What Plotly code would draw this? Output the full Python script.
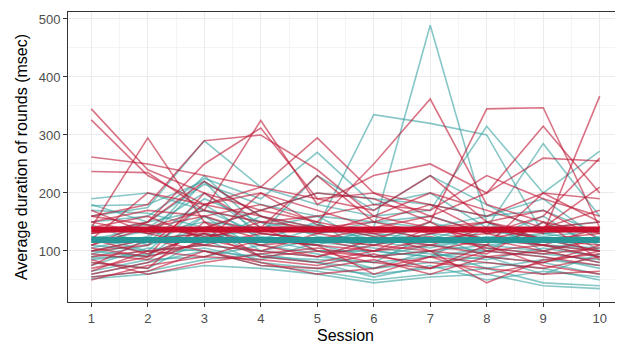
import plotly.graph_objects as go

sessions = [1, 2, 3, 4, 5, 6, 7, 8, 9, 10]

red_series = [
    [345, 240, 200, 170, 150, 130, 140, 120, 110, 100],
    [326, 230, 180, 160, 140, 150, 130, 140, 120, 130],
    [262, 250, 230, 210, 190, 200, 180, 160, 200, 190],
    [237, 235, 170, 325, 180, 230, 250, 200, 260, 255],
    [140, 295, 150, 120, 110, 100, 120, 130, 110, 90],
    [160, 180, 290, 300, 240, 160, 140, 150, 120, 100],
    [130, 150, 250, 312, 190, 170, 230, 150, 170, 120],
    [120, 200, 180, 210, 295, 200, 160, 130, 140, 150],
    [110, 140, 160, 180, 150, 250, 362, 180, 150, 130],
    [150, 130, 140, 170, 200, 190, 150, 345, 347, 140],
    [100, 120, 130, 110, 120, 140, 160, 200, 315, 200],
    [90, 100, 110, 130, 120, 110, 130, 150, 130, 367],
    [60, 80, 120, 100, 90, 110, 100, 120, 140, 210],
    [70, 90, 200, 140, 100, 90, 80, 70, 60, 65],
    [55, 65, 100, 80, 60, 70, 90, 60, 80, 110],
    [80, 70, 150, 90, 100, 80, 70, 100, 90, 75],
    [140, 160, 120, 150, 140, 130, 100, 90, 80, 100],
    [170, 130, 110, 100, 130, 160, 200, 170, 140, 170],
    [100, 110, 180, 200, 170, 140, 120, 110, 200, 150],
    [120, 95, 130, 90, 80, 100, 140, 120, 100, 80],
    [65, 100, 90, 120, 110, 60, 90, 80, 70, 90],
    [150, 170, 160, 130, 120, 100, 110, 140, 120, 110],
    [95, 85, 140, 110, 90, 120, 150, 100, 110, 140],
    [75, 120, 100, 75, 70, 85, 60, 90, 100, 120],
    [130, 140, 170, 150, 160, 180, 170, 230, 190, 160],
    [85, 60, 80, 95, 105, 90, 100, 45, 85, 95],
    [110, 150, 220, 160, 130, 115, 125, 105, 95, 105],
    [160, 145, 125, 140, 230, 150, 180, 130, 160, 260],
    [50, 75, 90, 85, 75, 95, 70, 110, 75, 60],
    [105, 90, 115, 200, 145, 125, 110, 95, 150, 85],
]

teal_series = [
    [190, 200, 170, 150, 130, 140, 489, 150, 120, 100],
    [178, 180, 220, 160, 140, 335, 320, 300, 130, 140],
    [160, 175, 290, 210, 180, 160, 170, 315, 200, 272],
    [150, 160, 225, 190, 270, 180, 200, 140, 285, 160],
    [130, 150, 215, 180, 160, 150, 140, 160, 190, 120],
    [120, 140, 200, 130, 120, 110, 130, 120, 110, 100],
    [110, 100, 180, 120, 110, 90, 100, 110, 100, 80],
    [100, 90, 160, 100, 90, 80, 90, 100, 90, 70],
    [90, 110, 140, 90, 80, 70, 80, 90, 80, 60],
    [80, 70, 120, 80, 70, 60, 70, 80, 70, 50],
    [60, 80, 100, 75, 65, 50, 60, 70, 45, 40],
    [52, 60, 75, 70, 60, 45, 55, 60, 40, 35],
    [140, 130, 150, 140, 130, 150, 160, 130, 140, 150],
    [125, 120, 130, 110, 140, 120, 110, 120, 130, 140],
    [115, 135, 110, 100, 120, 130, 120, 110, 120, 120],
    [105, 125, 230, 140, 160, 110, 150, 120, 160, 100],
    [95, 115, 190, 150, 100, 100, 90, 140, 110, 90],
    [85, 95, 130, 120, 150, 90, 110, 100, 150, 110],
    [75, 105, 100, 90, 85, 80, 130, 90, 60, 95],
    [65, 85, 90, 110, 95, 70, 100, 70, 85, 75],
    [170, 165, 140, 170, 200, 190, 180, 160, 170, 130],
    [135, 145, 125, 135, 145, 125, 140, 135, 125, 135],
    [145, 110, 160, 125, 110, 140, 120, 150, 100, 125],
    [55, 65, 85, 95, 80, 55, 75, 50, 65, 55],
    [180, 150, 170, 130, 230, 170, 230, 180, 130, 115],
    [100, 120, 220, 120, 100, 100, 90, 105, 95, 85],
    [125, 100, 110, 160, 125, 115, 105, 125, 110, 105],
    [88, 92, 105, 85, 115, 105, 95, 85, 105, 90],
]

red_mean = 137
teal_mean = 119

y_ticks = [100, 200, 300, 400, 500]

RED = "rgba(190,22,52,0.6)"
TEAL = "rgba(55,162,162,0.6)"

fig = go.Figure()
for s in teal_series:
    fig.add_trace(go.Scatter(x=sessions, y=s, mode="lines",
                             line=dict(color=TEAL, width=1.6), hoverinfo="skip"))
for s in red_series:
    fig.add_trace(go.Scatter(x=sessions, y=s, mode="lines",
                             line=dict(color=RED, width=1.6), hoverinfo="skip"))

fig.add_trace(go.Scatter(x=[sessions[0], sessions[-1]], y=[teal_mean, teal_mean], mode="lines",
                         line=dict(color="rgb(40,150,150)", width=6), hoverinfo="skip"))
fig.add_trace(go.Scatter(x=[sessions[0], sessions[-1]], y=[red_mean, red_mean], mode="lines",
                         line=dict(color="rgb(200,16,46)", width=6), hoverinfo="skip"))

# page body has an 8px margin, so the figure is sized/placed to compensate
fig.update_layout(
    width=615, height=338,
    margin=dict(l=60, r=0, t=4, b=44),
    paper_bgcolor="white", plot_bgcolor="white",
    showlegend=False,
    font=dict(family="Liberation Sans, Arial, sans-serif"),
)
fig.update_xaxes(
    range=[0.588, 10.412], tickvals=sessions, ticktext=[str(s) for s in sessions],
    automargin=False,
    showgrid=True, gridcolor="#EBEBEB", gridwidth=1,
    minor=dict(dtick=0.5, tick0=0.5, showgrid=True, gridcolor="#F4F4F4", gridwidth=0.6),
    showline=True, linecolor="#333333", linewidth=1, mirror=True,
    ticks="outside", ticklen=4, tickcolor="#333333",
    tickfont=dict(size=13, color="#4D4D4D"),
    title=dict(text="Session", font=dict(size=16, color="black"), standoff=5),
    zeroline=False,
)
fig.update_yaxes(
    range=[12, 512], tickvals=y_ticks, ticktext=[str(v) for v in y_ticks],
    automargin=False,
    showgrid=True, gridcolor="#EBEBEB", gridwidth=1,
    minor=dict(dtick=50, tick0=50, showgrid=True, gridcolor="#F4F4F4", gridwidth=0.6),
    showline=True, linecolor="#333333", linewidth=1, mirror=True,
    ticks="outside", ticklen=4, tickcolor="#333333",
    tickfont=dict(size=13, color="#4D4D4D"),
    title=dict(text="Average duration of rounds (msec)", font=dict(size=16, color="black"), standoff=7),
    zeroline=False,
)

fig.write_html("out.html")
